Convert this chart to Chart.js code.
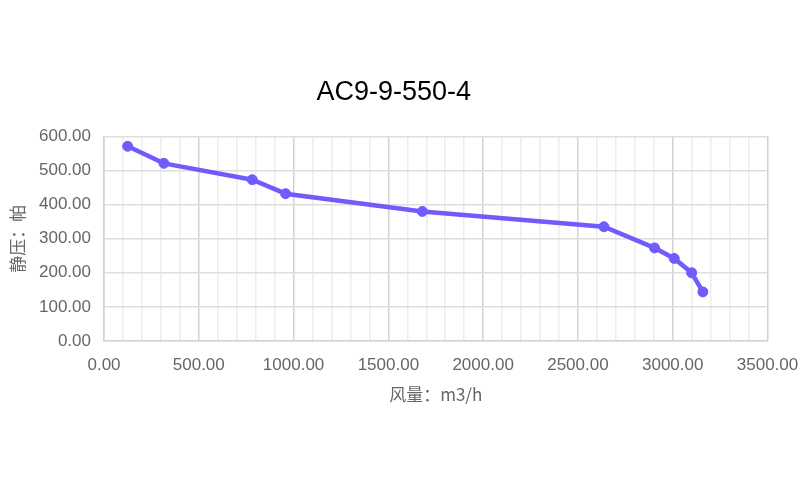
<!DOCTYPE html>
<html lang="zh">
<head>
    <meta charset="UTF-8">
    <title>AC9-9-550-4</title>
    <script src="https://cdn.jsdelivr.net/npm/chart.js"></script>
    <style>
        html, body { margin: 0; padding: 0; background: #fff; }
        #wrap { width: 800px; height: 500px; }
    </style>
</head>
<body>
    <div id="wrap"><canvas id="fanChart"></canvas></div>

    <script>
        // 风量 (m3/h) 和 静压 (帕)
        const airflow = [125, 316, 782, 958, 1679, 2637, 2904, 3008, 3100, 3159];
        const staticPressure = [571, 521, 473, 432, 380, 335, 273, 242, 200, 144];
        const chartTitle = 'AC9-9-550-4';
        const xTitle = '风量：m3/h';
        const yTitle = '静压：帕';

        const points = airflow.map((x, i) => ({ x: x, y: staticPressure[i] }));
        const lineColor = 'rgb(112, 92, 250)';
        const tickFont = { family: 'Liberation Sans, Arial, sans-serif', size: 17 };

        const ctx = document.getElementById('fanChart').getContext('2d');
        new Chart(ctx, {
            type: 'line',
            data: {
                datasets: [{
                    label: chartTitle,
                    data: points,
                    borderColor: lineColor,
                    backgroundColor: lineColor,
                    borderWidth: 4.5,
                    pointRadius: 5,
                    pointBorderWidth: 1,
                    pointHoverRadius: 5,
                    fill: false,
                    tension: 0
                }]
            },
            options: {
                responsive: true,
                maintainAspectRatio: false,
                animation: false,
                layout: { padding: { left: 20, right: 32.5, top: 68, bottom: 89 } },
                plugins: {
                    legend: { display: false },
                    tooltip: { enabled: false },
                    title: {
                        display: true,
                        text: chartTitle,
                        color: '#000',
                        font: { family: 'Liberation Sans, Arial, sans-serif', size: 27, weight: 'normal' },
                        padding: { top: 8, bottom: 28 }
                    }
                },
                scales: {
                    x: {
                        type: 'linear',
                        min: 0,
                        max: 3500,
                        afterFit: (s) => { s.height = 70; s.paddingRight = 0; s.paddingLeft = 0; },
                        ticks: {
                            stepSize: 100,
                            autoSkip: false,
                            maxRotation: 0,
                            padding: 14,
                            color: '#666',
                            font: tickFont,
                            callback: (v) => (v % 500 === 0 ? v.toFixed(2) : '')
                        },
                        grid: {
                            color: (c) => (c.tick && c.tick.value % 500 === 0 ? '#d2d2d2' : '#ececec'),
                            lineWidth: 1.5,
                            drawTicks: false
                        },
                        border: { color: '#d2d2d2', width: 1.5 },
                        title: {
                            display: true,
                            text: xTitle,
                            color: '#666',
                            font: { family: 'Noto Sans CJK SC, sans-serif', size: 17 },
                            padding: { top: 0, bottom: 6 }
                        }
                    },
                    y: {
                        min: 0,
                        max: 600,
                        afterFit: (s) => { s.width = 84; },
                        ticks: {
                            stepSize: 100,
                            color: '#666',
                            padding: 13,
                            font: tickFont,
                            callback: (v) => v.toFixed(2)
                        },
                        grid: { color: '#dedede', lineWidth: 1.5, drawTicks: false },
                        border: { color: '#d2d2d2', width: 1.5 },
                        title: {
                            display: true,
                            text: yTitle,
                            color: '#666',
                            font: { family: 'Noto Sans CJK SC, sans-serif', size: 17 },
                            padding: { top: -13, bottom: 0 }
                        }
                    }
                }
            }
        });
    </script>
</body>
</html>
